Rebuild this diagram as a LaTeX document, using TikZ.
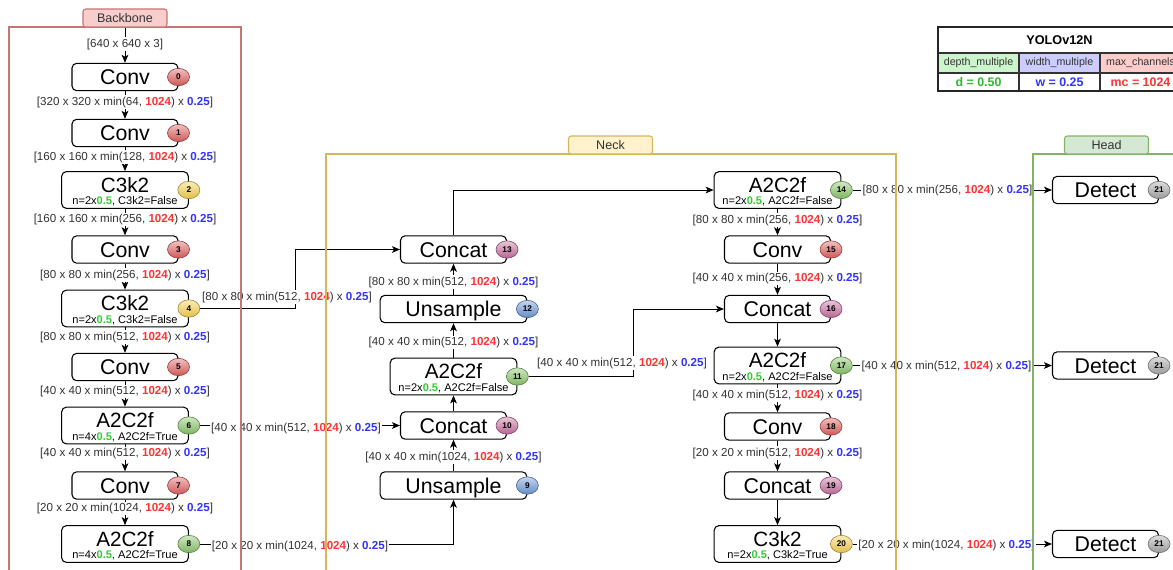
\documentclass[tikz,border=0pt]{standalone}
\usepackage{fontspec}
\setmainfont{Liberation Sans}
\usetikzlibrary{arrows.meta,shapes.geometric}

\definecolor{txtgray}{HTML}{333333}
\definecolor{hired}{HTML}{FF3333}
\definecolor{hiblue}{HTML}{3333FF}
\definecolor{higreen}{HTML}{33CC33}
\definecolor{bbline}{HTML}{C77572}
\definecolor{bbfill}{HTML}{F8CECC}
\definecolor{nkline}{HTML}{D6B656}
\definecolor{nkfill}{HTML}{FFF2CC}
\definecolor{hdline}{HTML}{82B366}
\definecolor{hdfill}{HTML}{D5E8D4}
\definecolor{convc}{HTML}{E06060}
\definecolor{c3c}{HTML}{F5D050}
\definecolor{a2c}{HTML}{88C56A}
\definecolor{catc}{HTML}{C86FA0}
\definecolor{upc}{HTML}{6E98D8}
\definecolor{detc}{HTML}{A8A8A8}
\definecolor{tgreen}{HTML}{CCF5CC}
\definecolor{tblue}{HTML}{CCCCFF}
\definecolor{tred}{HTML}{FFCCCC}

\newcommand{\rv}[1]{\textcolor{hired}{\textbf{#1}}}
\newcommand{\bv}[1]{\textcolor{hiblue}{\textbf{#1}}}
\newcommand{\gv}[1]{\textcolor{higreen}{\textbf{#1}}}
\newcommand{\dims}[2]{[#1 x #1 x min(#2, \rv{1024}) x \bv{0.25}]}

\tikzset{
    blk/.style={draw, rounded corners=3.5pt, fill=white, line width=0.8pt,
        minimum width=79.5pt, minimum height=20.5pt, inner sep=0pt,
        text height=11.5pt, text depth=0pt, font=\fontsize{16}{16}\selectfont},
    wideblk/.style={blk, minimum width=110pt},
    tallblk/.style={blk, minimum width=95pt, minimum height=27.5pt},
    ttltxt/.style={inner sep=0pt, font=\fontsize{15.5}{15.5}\selectfont},
    subtxt/.style={inner sep=0pt, font=\fontsize{8.3}{8.5}\selectfont},
    badge/.style={ellipse, draw=#1!65!black, line width=0.45pt,
        top color=#1!40!white, bottom color=#1!92!black,
        minimum width=16.5pt, minimum height=13pt, inner sep=0pt,
        font=\bfseries\fontsize{6.2}{6.2}\selectfont},
    lbl/.style={fill=white, inner sep=1pt, text=txtgray, font=\fontsize{8.7}{8.7}\selectfont},
    flow/.style={-{Stealth[length=6pt,width=5pt,inset=1.5pt]}, line width=0.75pt},
    grp/.style={line width=0.8pt},
    grptab/.style={draw, rounded corners=2pt, line width=0.8pt, minimum width=63pt,
        minimum height=13.5pt, inner sep=0pt, text=txtgray, font=\fontsize{9.4}{9.4}\selectfont}
}

\begin{document}
\begin{tikzpicture}[x=0.75pt, y=-0.75pt]
    \useasboundingbox (0,0) rectangle (1173,569);
    \clip (0,0) rectangle (1173,569);

    % blocks with one line of text
    \foreach \i/\x/\y/\nm/\col/\sty in {0/125/77/Conv/convc/blk, 1/125/133/Conv/convc/blk,
            3/125/249.5/Conv/convc/blk, 5/125/367/Conv/convc/blk, 7/125/485.5/Conv/convc/blk,
            9/453.5/485.5/Unsample/upc/wideblk, 10/453.5/425.5/Concat/catc/blk,
            12/453.5/309/Unsample/upc/wideblk, 13/453.5/249.5/Concat/catc/blk,
            15/777.5/249.5/Conv/convc/blk, 16/777.5/309/Concat/catc/blk,
            18/777.5/426.5/Conv/convc/blk, 19/777.5/485.5/Concat/catc/blk} {
        \node[\sty] (b\i) at (\x,\y) {\nm};
        \node[badge=\col] (n\i) at (b\i.east) {\i};
    }

    % blocks with a repeat line
    \foreach \i/\x/\y/\nm/\rep/\fl/\col in {2/125/190/C3k2/2/False/c3c,
            4/125/308.5/C3k2/2/False/c3c, 6/125/425.5/A2C2f/4/True/a2c,
            8/125/544/A2C2f/4/True/a2c, 11/453.5/376.5/A2C2f/2/False/a2c,
            14/777.5/190/A2C2f/2/False/a2c, 17/777.5/365.5/A2C2f/2/False/a2c,
            20/777.5/544/C3k2/2/True/c3c} {
        \node[tallblk] (b\i) at (\x,\y) {};
        \node[ttltxt] (t\i) at ([yshift=4pt]b\i.center) {\nm};
        \node[subtxt] (s\i) at ([yshift=-8.4pt]b\i.center) {n=\rep{}x\gv{0.5}, \nm=\fl};
        \node[badge=\col] (n\i) at (b\i.east) {\i};
    }

    \foreach \j/\y in {1/190, 2/365.5, 3/544} {
        \node[blk] (d\j) at (1105.5,\y) {Detect};
        \node[badge=detc] (m\j) at (d\j.east) {21};
    }

    % connectors
    \coordinate (inp) at (125,27);
    \draw[flow] (inp) -- (b0);
    \foreach \a/\b in {0/1, 1/2, 2/3, 3/4, 4/5, 5/6, 6/7, 7/8, 9/10, 10/11, 11/12, 12/13,
            14/15, 15/16, 16/17, 17/18, 18/19, 19/20}
        \draw[flow] (b\a) -- (b\b);
    \draw[flow] (b13) |- (b14);
    \draw[flow] (n4) -- ++(107,0) |- (b13);
    \draw[flow] (n6) -- (b10);
    \draw[flow] (n8) -| (b9);
    \draw[flow] (n11) -- ++(116,0) |- (b16);
    \draw[flow] (n14) -- (d1);
    \draw[flow] (n17) -- (d2);
    \draw[flow] (n20) -- (d3);

    % shape labels
    \node[lbl] (l0) at (125,44) {[640 x 640 x 3]};
    \foreach \i/\x/\y/\h/\c in {1/125/102/320/64, 2/125/157/160/128, 3/125/219.5/160/256,
            4/125/275/80/256, 5/125/337/80/512, 6/125/391.5/40/512, 7/125/453.5/40/512,
            8/125/508.5/20/1024, 9/287/297/80/512, 10/296/428/40/512, 11/300/546/20/1024,
            12/453.5/457/40/1024, 13/453.5/342.5/40/512, 14/453.5/282/80/512,
            15/622/363/40/512, 16/777.5/220/80/256, 17/777.5/278.5/40/256,
            18/777.5/395/40/512, 19/777.5/453/20/512, 20/947.5/190/80/256,
            21/946.5/366/40/512, 22/946.5/545/20/1024}
        \node[lbl] (l\i) at (\x,\y) {\dims{\h}{\c}};

    % groups
    \draw[grp, bbline] (9,620) |- (241,27) -- (241,620);
    \draw[grp, nkline] (326,620) |- (896,154) -- (896,620);
    \draw[grp, hdline] (1033,620) |- (1250,154);
    \node[grptab, draw=bbline, fill=bbfill] (gb) at (125,18) {Backbone};
    \node[grptab, draw=nkline, fill=nkfill] (gn) at (610.5,145) {Neck};
    \node[grptab, draw=hdline, fill=hdfill] (gh) at (1106.5,145) {Head};

    % table
    \fill[tgreen] (938,53) rectangle (1019,73);
    \fill[tblue] (1019,53) rectangle (1100,73);
    \fill[tred] (1100,53) rectangle (1181,73);
    \draw[line width=0.8pt, black!80] (938,53) -- (1181,53) (938,73) -- (1181,73)
        (1019,53) -- (1019,91) (1100,53) -- (1100,91);
    \draw[line width=1.1pt, black!85] (938,27) rectangle (1181,91);
    \node[font=\bfseries\fontsize{9.5}{9.5}\selectfont] (tt) at (1059.5,40) {YOLOv12N};
    \node[text=txtgray, font=\fontsize{8}{8}\selectfont] (h1) at (978.5,63) {depth\_multiple};
    \node[text=txtgray, font=\fontsize{8}{8}\selectfont] (h2) at (1059.5,63) {width\_multiple};
    \node[text=txtgray, font=\fontsize{8}{8}\selectfont] (h3) at (1140.5,63) {max\_channels};
    \node[text=higreen!90!black, font=\bfseries\fontsize{9.3}{9.3}\selectfont] (v1) at (978.5,82) {d = 0.50};
    \node[text=hiblue, font=\bfseries\fontsize{9.3}{9.3}\selectfont] (v2) at (1059.5,82) {w = 0.25};
    \node[text=hired, font=\bfseries\fontsize{9.3}{9.3}\selectfont] (v3) at (1140.5,82) {mc = 1024};
\end{tikzpicture}
\end{document}
